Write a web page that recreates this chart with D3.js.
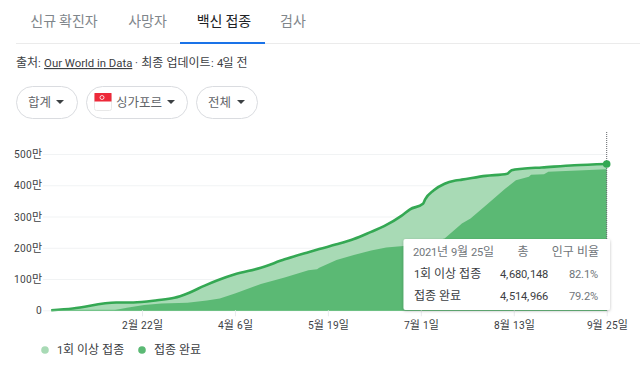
<!DOCTYPE html>
<html><head><meta charset="utf-8">
<script src="https://cdn.jsdelivr.net/npm/d3@7"></script>
<style>
@font-face{font-family:RobotoTight;src:local("Roboto");size-adjust:93%;unicode-range:U+0020-024F}
html,body{margin:0;padding:0;background:#fff;overflow:hidden}
svg{display:block}
text{font-family:RobotoTight,"Noto Sans CJK KR",sans-serif}
</style></head><body>
<svg id="c" width="640" height="366"></svg>
<script>
const tabs = ["신규 확진자","사망자","백신 접종","검사"];
const chips = ["합계","싱가포르","전체"];
const legendLabels = ["1회 이상 접종","접종 완료"];
const tickDates = ["2021-02-22","2021-04-06","2021-05-19","2021-07-01","2021-08-13","2021-09-25"];
const tickLabels = ["2월 22일","4월 6일","5월 19일","7월 1일","8월 13일","9월 25일"];
const yTicks = [0,100,200,300,400,500];
const firstDates = ["01-11","01-21","02-10","02-18","03-01","03-09","03-15","03-23","03-29","04-06","04-18","04-29","05-10","05-15","05-23","05-31","06-08","06-14","06-22","06-26","07-02","07-03","07-07","07-12","07-17","07-20","07-31","08-10","08-12","08-17","08-26","09-10","09-25"];
const firstValues = [0,6,25,25,32,40,54,79,96,115,136,163,186,196,211,228,251,269,302,323,341,355,384,405,415,418,430,437,448,453,457,464,468];
const fullDates = ["02-09","02-15","02-23","03-03","03-15","03-24","03-30","04-06","04-18","04-29","05-10","05-14","05-15","05-23","05-31","06-08","06-15","06-23","07-01","07-12","07-20","07-24","08-01","08-09","08-14","08-20","08-21","08-27","08-29","09-25"];
const fullValues = [0,8,17,22,24,31,38,54,84,105,128,131,136,161,177,191,201,206,211,230,278,294,341,389,416,427,434,435,443,451];
const tipHead = ["2021년 9월 25일","총","인구 비율"];
const tipRows = [["1회 이상 접종","4,680,148","82.1%"],["접종 완료","4,514,966","79.2%"]];

const parse = d3.utcParse("%Y-%m-%d");
const md = s => parse("2021-"+s);
const svg = d3.select("#c");
const x = d3.scaleUtc().domain([parse("2021-02-22"),parse("2021-09-25")]).range([142,606.7]);
const y = d3.scaleLinear().domain([0,500]).range([310.3,154]);

function draw(){
svg.selectAll("*").remove();
// tabs
const tabX=[64,147.5,224,293];
svg.append("line").attr("x1",16).attr("x2",640).attr("y1",43.5).attr("y2",43.5).attr("stroke","#ebebeb");
svg.append("rect").attr("x",180).attr("y",42).attr("width",85).attr("height",2).attr("fill","#1a73e8");
tabs.forEach((t,i)=>svg.append("text").attr("x",tabX[i]).attr("y",26).attr("text-anchor","middle")
  .attr("font-size",14).attr("fill",i==2?"#202124":"#80868b").text(t));

// source
const src=svg.append("text").attr("x",16).attr("y",67).attr("font-size",12).attr("fill","#3c4043");
src.append("tspan").text("출처: ");
src.append("tspan").attr("text-decoration","underline").attr("font-family","Roboto").attr("font-size",11.35).text("Our World in Data");
src.append("tspan").text(" · 최종 업데이트: 4일 전");

// chips
const chipBox=[[16,62],[86,102],[196,62]];
const chipText=[[28],[116],[208]];
const arrowX=[60,171,241];
chips.forEach((t,i)=>{
  svg.append("rect").attr("x",chipBox[i][0]+.5).attr("y",86.5).attr("width",chipBox[i][1]-1).attr("height",32).attr("rx",16)
    .attr("fill","#fff").attr("stroke","#dadce0");
  svg.append("text").attr("x",chipText[i][0]).attr("y",107).attr("font-size",12.5).attr("fill","#5f6368").text(t);
  svg.append("path").attr("d",`M${arrowX[i]-4} 100h8l-4 4z`).attr("fill","#3c4043");
});
svg.append("rect").attr("x",94.5).attr("y",93.5).attr("width",17).attr("height",17).attr("rx",2).attr("fill","#fff").attr("stroke","#e8e8e8");
svg.append("rect").attr("x",94.5).attr("y",93).attr("width",17).attr("height",8.5).attr("fill","#ed2939");
svg.append("circle").attr("cx",102).attr("cy",97.5).attr("r",2).attr("fill","none").attr("stroke","#fff").attr("stroke-width",.8);

// grid & axes
const yAxis=d3.axisLeft(y).tickValues(yTicks).tickSize(-564).tickPadding(4).tickFormat(d=>d===0?"0":d+"만");
const gy=svg.append("g").attr("transform","translate(43,0)").call(yAxis);
gy.select(".domain").remove();
gy.selectAll("line").attr("stroke","#f1f3f4");
gy.selectAll("text").attr("font-size",11).attr("fill","#3c4043").attr("x",-1);

const a1 = firstDates.map((d,i)=>({d:md(d),v:firstValues[i]}));
const a2 = fullDates.map((d,i)=>({d:md(d),v:fullValues[i]}));
const area=d3.area().x(d=>x(d.d)).y0(y(0)).y1(d=>y(d.v));
svg.append("path").datum(a1).attr("d",area.curve(d3.curveMonotoneX)).attr("fill","#a8dab5");
svg.append("path").datum(a2).attr("d",area.curve(d3.curveLinear)).attr("fill","#5bb974");
svg.append("path").datum(a1).attr("d",d3.line().x(d=>x(d.d)).y(d=>y(d.v)).curve(d3.curveMonotoneX)).attr("fill","none").attr("stroke","#34a853").attr("stroke-width",2.6);
svg.append("line").attr("x1",52).attr("x2",607).attr("y1",y(0)).attr("y2",y(0)).attr("stroke","#5bb974").attr("stroke-width",1);

const xAxis=d3.axisBottom(x).tickValues(tickDates.map(s=>parse(s))).tickSize(6).tickPadding(5).tickFormat((d,i)=>tickLabels[i]);
const gx=svg.append("g").attr("transform","translate(0,310.3)").call(xAxis);
gx.select(".domain").remove();
gx.selectAll("line").attr("stroke","#e8eaed");
gx.selectAll("text").attr("font-size",11).attr("fill","#3c4043");

// hover
const last=a1[a1.length-1];
svg.append("line").attr("x1",x(last.d)).attr("x2",x(last.d)).attr("y1",132).attr("y2",y(0)).attr("stroke","#5f6368").attr("stroke-dasharray","1,1");
svg.append("circle").attr("cx",x(last.d)).attr("cy",y(last.v)).attr("r",3.8).attr("fill","#34a853");

// tooltip
const defs=svg.append("defs");
const f=defs.append("filter").attr("id","s").attr("x","-10%").attr("y","-20%").attr("width","120%").attr("height","140%");
f.append("feDropShadow").attr("dx",0).attr("dy",1).attr("stdDeviation",1.5).attr("flood-color","#000").attr("flood-opacity",.25);
svg.append("rect").attr("x",403.5).attr("y",239).attr("width",206.5).attr("height",71).attr("rx",2).attr("fill","#fff").attr("filter","url(#s)");
const anchors=["start","middle","end"], headX=[413,523,599];
tipHead.forEach((t,i)=>svg.append("text").attr("x",headX[i]).attr("y",256).attr("text-anchor",anchors[i]).attr("font-size",12).attr("fill","#70757a").text(t));
tipRows.forEach((r,j)=>{
  const yy=278+j*21.5;
  svg.append("text").attr("x",414).attr("y",yy).attr("font-size",12).attr("fill","#3c4043").text(r[0]);
  svg.append("text").attr("x",548).attr("y",yy).attr("text-anchor","end").attr("font-size",12).attr("fill","#3c4043").text(r[1]);
  svg.append("text").attr("x",599).attr("y",yy).attr("text-anchor","end").attr("font-size",12).attr("fill","#70757a").text(r[2]);
});

// legend
const lx=[[45,57],[142,154]], lc=["#a8dab5","#5bb974"];
legendLabels.forEach((t,i)=>{
  svg.append("circle").attr("cx",lx[i][0]).attr("cy",350).attr("r",3.8).attr("fill",lc[i]);
  svg.append("text").attr("x",lx[i][1]).attr("y",354).attr("font-size",12).attr("fill","#3c4043").text(t);
});
}
draw();
if(document.fonts&&document.fonts.ready)document.fonts.ready.then(draw);
</script>
</body></html>
